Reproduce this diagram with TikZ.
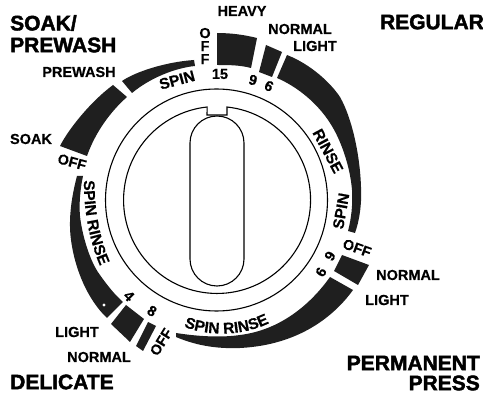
\documentclass[tikz,border=0pt]{standalone}
\usepackage{fontspec}
\setmainfont{Liberation Sans}
\newfontfamily\heavyfont[FakeBold=2]{Liberation Sans Bold}
\newfontfamily\labfont[FakeBold=0.4]{Liberation Sans Bold}
\usetikzlibrary{decorations.text}
\definecolor{inkdark}{gray}{0.12}
\newcommand{\labtxt}{\labfont\fontsize{14.5}{15}\selectfont}
\newcommand{\labbig}{\labfont\fontsize{15.5}{16}\selectfont}
\tikzset{
  band/.style={fill=inkdark,draw=none},
  ring/.style={draw=black,line width=1.1pt},
  lab/.style={inner sep=0pt,text=black,font=\labtxt},
  labb/.style={inner sep=0pt,text=black,font=\labbig},
  title/.style={inner sep=0pt,text=black,font=\heavyfont\fontsize{21}{22}\selectfont},
  curved/.style={decorate,decoration={text along path,text align=center,text={|\labbig|#1}}}
}
\begin{document}
\begin{tikzpicture}[x=1pt,y=-1pt]
\useasboundingbox (0,0) rectangle (483,393);
% printed bands
\path[band] (217,33) .. controls (232,33) and (245,35) .. (257,38) -- (251,68) .. controls (240,65) and (228,65) .. (217,65) -- cycle;
\path[band] (266,45) -- (282,52) -- (272,77) -- (259,72) -- cycle;
\path[band] (287,55) .. controls (310,64) and (330,82) .. (340,97) .. controls (352,118) and (360,155) .. (361,187) .. controls (362,205) and (359,222) .. (355,233) -- (348,231) .. controls (351,220) and (353,205) .. (352,190) .. controls (350,165) and (340,138) .. (330,123) .. controls (318,104) and (298,87) .. (277,78) -- cycle;
\path[band] (342,255) -- (369,265) -- (358,285) -- (334,271) -- cycle;
\path[band] (330,277) -- (353,290) .. controls (335,315) and (300,345) .. (240,348) .. controls (215,349) and (195,345) .. (176,337) -- (176,333) .. controls (195,336) and (220,338) .. (240,335) .. controls (280,330) and (310,305) .. (330,277) -- cycle;
\path[band] (148,322) -- (156,326) -- (143,351) -- (136,346) -- cycle;
\path[band] (126,305) -- (144,319) -- (130,342) -- (111,324) -- cycle;
\path[band] (123,302) -- (107,318) .. controls (88,300) and (75,270) .. (71,240) .. controls (68,218) and (72,195) .. (77,176) -- (83,176) .. controls (80,190) and (79,205) .. (80,216) .. controls (82,235) and (90,262) .. (100,275) .. controls (107,285) and (115,295) .. (123,302) -- cycle;
\path[band] (60,146) .. controls (68,130) and (90,102) .. (113,85) -- (127,97) .. controls (110,112) and (95,133) .. (87,156) -- cycle;
\path[band] (122,81) .. controls (135,72) and (165,62) .. (194,60) -- (195,66) .. controls (175,68) and (150,78) .. (132,93) -- cycle;
\fill[white] (104,305) circle[radius=1.6pt];
% dial
\path[ring] (216.5,200) circle[radius=111pt];
\draw[ring] (227,107) arc[start angle=-83.9,end angle=263.9,radius=93.5] -- (207,115) -- (227,115) -- cycle;
\draw[ring,rounded corners=27pt] (190,116) rectangle (244,286);
% titles
\node[title,anchor=west] (t1) at (10,23) {SOAK/};
\node[title,anchor=west] (t2) at (10,45) {PREWASH};
\node[title] (t3) at (432,22) {REGULAR};
\node[title,anchor=east] (t4) at (480,363) {PERMANENT};
\node[title,anchor=east] (t5) at (480,383) {PRESS};
\node[title,anchor=west] (t6) at (10,382) {DELICATE};
% labels
\node[lab] (l1) at (242,11) {HEAVY};
\node[lab] (l2) at (300,29) {NORMAL};
\node[lab] (l3) at (315,46) {LIGHT};
\node[lab] (l4) at (79,72) {PREWASH};
\node[lab] (l5) at (31,139) {SOAK};
\node[lab] (l6) at (408,275) {NORMAL};
\node[lab] (l7) at (387,300) {LIGHT};
\node[lab] (l8) at (77,332) {LIGHT};
\node[lab] (l9) at (99,357) {NORMAL};
\node[lab,align=center,font=\labfont\fontsize{14.5}{13}\selectfont] (o1) at (205,46) {O\\F\\F};
\node[lab,rotate=-15] (o2) at (72,162) {OFF};
\node[lab,rotate=-20] (o3) at (357,248) {OFF};
\node[lab,rotate=58] (o4) at (161,342) {OFF};
\node[labb,rotate=15] (s1) at (177,80) {SPIN};
\node[labb,rotate=80] (s2) at (341,211) {SPIN};
\node[labb,rotate=-62] (r1) at (328,151) {RINSE};
\node[lab] (n1) at (220,74) {15};
\node[lab,rotate=-15] (n2) at (253,80) {9};
\node[lab,rotate=-25] (n3) at (269,86) {6};
\node[lab,rotate=60] (n4) at (330,256) {9};
\node[lab,rotate=60] (n5) at (321,272) {6};
\node[lab,rotate=-45] (n6) at (129,296) {4};
\node[lab,rotate=-30] (n7) at (152,311) {8};
\path[curved=SPIN RINSE] (84,176) .. controls (83,210) and (90,245) .. (102,270);
\path[curved=SPIN RINSE] (180,325) .. controls (205,337) and (245,337) .. (273,321);
\end{tikzpicture}
\end{document}
